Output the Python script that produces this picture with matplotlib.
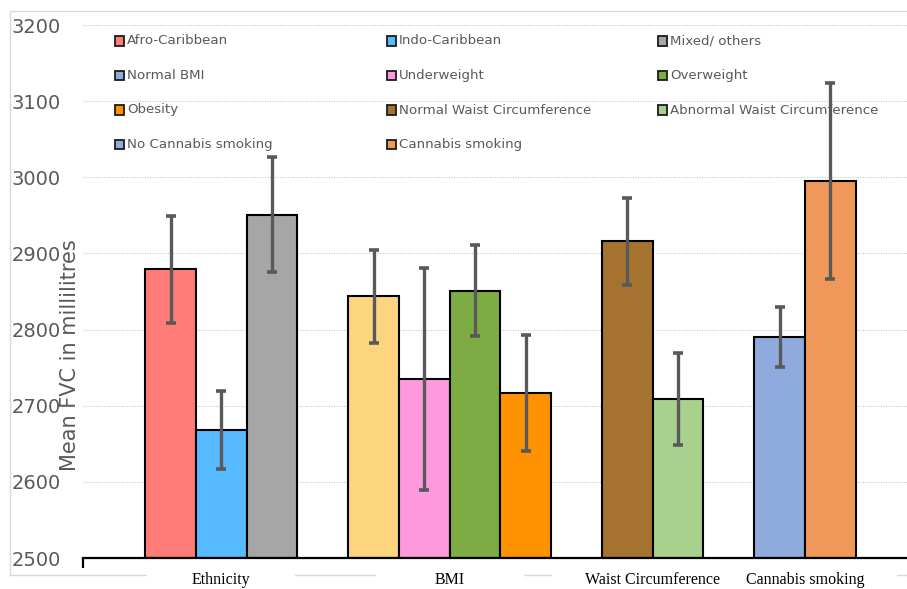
import matplotlib
matplotlib.use("Agg")
import matplotlib.pyplot as plt
from matplotlib.patches import Rectangle
from matplotlib.transforms import blended_transform_factory
import numpy as np

# ---------------- data ----------------
group_names = ["Ethnicity", "BMI", "Waist Circumference", "Cannabis smoking"]

ethnicity_labels = ["Afro-Caribbean", "Indo-Caribbean", "Mixed/ others"]
ethnicity_means = [2879, 2668, 2951]
ethnicity_err = [70, 51, 76]

bmi_labels = ["Normal BMI", "Underweight", "Overweight", "Obesity"]
bmi_means = [2844, 2735, 2851, 2717]
bmi_err = [61, 146, 60, 76]

waist_labels = ["Normal Waist Circumference", "Abnormal Waist Circumference"]
waist_means = [2916, 2709]
waist_err = [57, 60]

cannabis_labels = ["No Cannabis smoking", "Cannabis smoking"]
cannabis_means = [2790, 2995]
cannabis_err = [39, 129]

bar_colors = ["#FF7C79", "#57B9FF", "#A6A6A6",
              "#FDD57E", "#FF99DD", "#7DAC44", "#FF9200",
              "#A6722F", "#A8D18D",
              "#8FAADC", "#F0985A"]
legend_colors = ["#FF7C79", "#57B9FF", "#A6A6A6",
                 "#8FAADC", "#FF99DD", "#7DAC44", "#FF9200",
                 "#A6722F", "#A8D18D",
                 "#8FAADC", "#F0985A"]

y_ticks = [2500, 2600, 2700, 2800, 2900, 3000, 3100, 3200]
y_label = "Mean FVC in millilitres"

# ---------------- layout ----------------
W, H = 907, 589
fig = plt.figure(figsize=(W / 100, H / 100), dpi=100)
ax = fig.add_axes([83 / W, 31 / H, 824 / W, 533 / H])

groups = [
    (ethnicity_labels, ethnicity_means, ethnicity_err),
    (bmi_labels, bmi_means, bmi_err),
    (waist_labels, waist_means, waist_err),
    (cannabis_labels, cannabis_means, cannabis_err),
]

positions, means, errs, labels, centers = [], [], [], [], []
pos = 0
for labs, m, e in groups:
    start = pos
    for l, mv, ev in zip(labs, m, e):
        positions.append(pos)
        means.append(mv)
        errs.append(ev)
        labels.append(l)
        pos += 1
    centers.append((start + pos - 1) / 2)
    pos += 1  # gap between groups

ymin = y_ticks[0]
ax.bar(positions, [m - ymin for m in means], bottom=ymin, width=1.0,
       color=bar_colors, edgecolor="black", linewidth=1.5, zorder=2)
ax.errorbar(positions, means, yerr=errs, fmt="none", ecolor="#595959",
            elinewidth=2.4, capsize=3.3, capthick=2.6, zorder=4)

xmin, xmax = -1.724, 14.51
ax.set_xlim(xmin, xmax)
ax.set_ylim(y_ticks[0], y_ticks[-1])

# grid
ax.set_yticks(y_ticks)
ax.yaxis.grid(True, color="#C8C8C8", linestyle=(0, (1, 1.3)), linewidth=0.8, zorder=0)
ax.set_axisbelow(True)
ax.tick_params(axis="y", length=0, pad=16, labelsize=14, labelcolor="#595959")
for spine in ["top", "right", "left"]:
    ax.spines[spine].set_visible(False)
ax.spines["bottom"].set_linewidth(1.6)
ax.spines["bottom"].set_color("black")
ax.spines["bottom"].set_zorder(5)

# x labels (groups)
ax.set_xticks(centers)
ax.set_xticklabels(group_names, fontfamily="Liberation Serif", fontsize=11.5, color="black")
ax.tick_params(axis="x", which="major", length=0, pad=10)
ax.set_xticks([xmin], minor=True)
ax.tick_params(axis="x", which="minor", length=7, width=1.6, color="black")

# y label
fig.text(70 / W, 1 - 355 / H, y_label, rotation=90, ha="center", va="center",
         fontsize=15, color="#595959")

# chart frame border
fig.patches.append(Rectangle((10 / W, 1 - 575 / H), 930 / W, (575 - 11) / H,
                             transform=fig.transFigure, fill=False,
                             edgecolor="#D9D9D9", linewidth=1.0, zorder=-1))

# white boxes behind the group labels (covering the frame line)
fig.canvas.draw()
renderer = fig.canvas.get_renderer()
px_per_unit = ax.transData.transform((1, 0))[0] - ax.transData.transform((0, 0))[0]
btrans = blended_transform_factory(ax.transData, fig.transFigure)
for c, tl in zip(centers, ax.get_xticklabels()):
    wpx = tl.get_window_extent(renderer).width
    half = max(1.46, wpx / px_per_unit / 2 + 0.65)
    ax.add_patch(Rectangle((c - half, 1 - 580 / H), 2 * half, 10 / H,
                           transform=btrans, facecolor="white", edgecolor="none",
                           clip_on=False, zorder=0.1))

# legend (manual, 3 columns x 4 rows)
col_x = [115, 387, 658]
row_y = [41, 75.5, 110, 144.5]
sw = 9
for i, (lab, col) in enumerate(zip(labels, legend_colors)):
    r, cidx = divmod(i, 3)
    x = col_x[cidx]
    y = row_y[r]
    ax.add_patch(Rectangle((x / W, 1 - (y + sw / 2) / H), sw / W, sw / H,
                           transform=fig.transFigure, facecolor=col,
                           edgecolor="#1a1a1a", linewidth=1.3, clip_on=False, zorder=1))
    ax.text((x + sw + 3) / W, 1 - y / H, lab, transform=fig.transFigure,
            ha="left", va="center", fontsize=9.6, color="#595959", zorder=1)

fig.savefig("out.png", dpi=100)
